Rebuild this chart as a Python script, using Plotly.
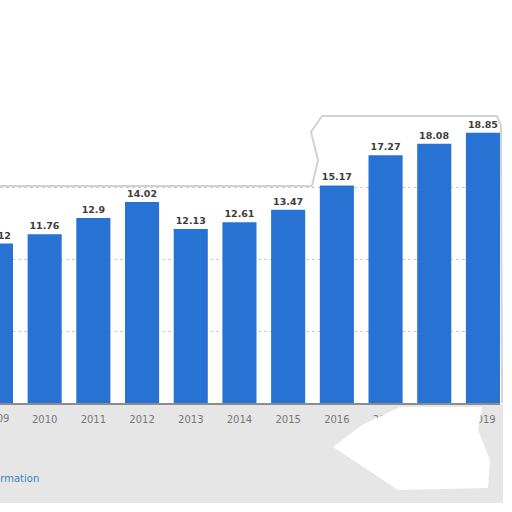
import plotly.graph_objects as go

years = ['2009', '2010', '2011', '2012', '2013', '2014',
         '2015', '2016', '2017', '2018', '2019']
values = [11.12, 11.76, 12.9, 14.02, 12.13, 12.61,
          13.47, 15.17, 17.27, 18.08, 18.85]
grid_ticks = [5, 10, 15]

# plot area in pixels: x 0..500, y 110..403
PW, PT, PB = 500, 110, 403


def px(x, y):
    # pixel -> paper coords
    return x / PW, (PB - y) / (PB - PT)


def poly(points, close=True):
    pts = [px(x, y) for x, y in points]
    d = 'M ' + ' L '.join('%.4f,%.4f' % p for p in pts)
    return d + ' Z' if close else d


fig = go.Figure(go.Bar(
    x=list(range(len(years))),
    y=values,
    text=[str(v) for v in values],
    textposition='outside',
    cliponaxis=True,
    textfont=dict(family='DejaVu Sans', size=9.5, color='#3d3d3d', weight='bold'),
    marker=dict(color='#2872d4', line=dict(width=0)),
    hoverinfo='skip',
))

shapes = [
    # grey smudge under the axis
    dict(type='rect', xref='paper', yref='paper', layer='below',
         x0=px(0, 0)[0], x1=px(503, 0)[0], y0=px(0, 404)[1], y1=px(0, 503)[1],
         fillcolor='#e6e6e6', line=dict(width=0)),
    # white patch bottom right
    dict(type='path', xref='paper', yref='paper', layer='above',
         path=poly([(400, 407), (482, 407), (478, 430), (490, 460), (488, 488),
                    (398, 490), (368, 470), (333, 447), (362, 425)]),
         fillcolor='white', line=dict(width=0)),
    # edge of the panel behind the bars
    dict(type='path', xref='paper', yref='paper', layer='below',
         path=poly([(0, 186), (312, 186), (318, 160), (311, 132), (322, 116),
                    (497, 116), (501, 126), (502, 403)], close=False),
         line=dict(color='#d2d2d2', width=2)),
]

annotations = [
    dict(text='2009', xref='paper', yref='paper', x=px(-4, 0)[0], y=0,
         yshift=-15, xanchor='center', yanchor='middle', showarrow=False,
         font=dict(family='DejaVu Sans', size=10, color='#777777')),
    dict(text='Additional Information', xref='paper', yref='paper',
         x=px(41, 0)[0], y=px(0, 479)[1], xanchor='right', yanchor='middle',
         showarrow=False,
         font=dict(family='DejaVu Sans', size=10, color='#3a84c0')),
]

fig.update_layout(
    width=512, height=512,
    margin=dict(l=0, r=12, t=PT, b=512 - PB, pad=0),
    paper_bgcolor='white',
    plot_bgcolor='white',
    bargap=0.30,
    showlegend=False,
    shapes=shapes,
    annotations=annotations,
    xaxis=dict(
        range=[0.083, 10.35],
        tickvals=list(range(len(years))),
        ticktext=years,
        tickfont=dict(family='DejaVu Sans', size=10, color='#777777'),
        showgrid=False, zeroline=False,
        showline=True, linecolor='#8c8c8c', linewidth=1.5,
        ticks='', ticklabelstandoff=6,
    ),
    yaxis=dict(
        range=[0, 20.43],
        tickvals=grid_ticks,
        showticklabels=False,
        showgrid=True, gridcolor='#cccccc', gridwidth=1, griddash='dot',
        zeroline=False, showline=False,
    ),
)

# page body has an 8px margin by default; drop it so the chart sits at 0,0
fig.write_html("out.html", config={'displayModeBar': False},
               post_script="document.body.style.margin = '0';")
